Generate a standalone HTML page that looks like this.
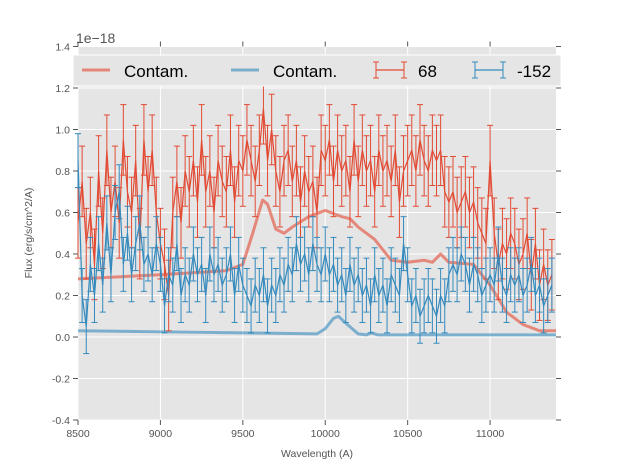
<!DOCTYPE html>
<html><head><meta charset="utf-8"><style>
body{margin:0;background:#fff;}
svg{display:block;font-family:"Liberation Sans",sans-serif;}
</style></head><body>
<svg id="chart" width="617" height="467">
<rect x="78" y="46.5" width="478" height="373.5" fill="#e5e5e5"/>
<g id="grid"></g>
<g id="series"></g>
<g id="axes"></g>
<g id="legend"></g>
</svg>
<script>
const redFlux=[0.55,0.75,0.45,0.6,0.35,0.8,0.5,0.9,0.6,0.75,
0.55,0.95,0.7,0.6,0.85,0.45,0.95,0.7,0.9,0.6,
0.45,0.35,0.2,0.6,0.75,0.55,0.8,0.7,0.85,0.65,
0.95,0.7,0.8,0.6,0.85,0.75,0.7,0.9,0.65,0.85,
0.8,0.95,0.85,0.75,0.9,1.1,0.85,1.0,0.8,0.7,
0.85,0.9,0.75,0.85,0.65,0.8,0.7,0.75,0.6,0.9,
0.85,0.95,0.75,0.9,0.8,0.85,0.7,0.95,0.75,0.9,
0.8,0.85,0.7,0.9,0.8,0.85,0.75,0.9,0.65,0.8,
0.85,0.9,0.8,0.95,0.85,0.8,0.9,0.85,0.9,0.7,
0.65,0.7,0.6,0.65,0.7,0.6,0.65,0.55,0.5,0.45,
0.85,0.5,0.35,0.45,0.4,0.5,0.45,0.35,0.4,0.5,
0.3,0.45,0.25,0.35,0.25,0.3];
const blueFlux=[0.85,0.2,0.05,0.35,0.2,0.45,0.25,0.55,0.3,0.6,
0.7,0.35,0.5,0.3,0.45,0.55,0.35,0.4,0.3,0.45,
0.35,0.15,0.3,0.25,0.45,0.2,0.3,0.25,0.4,0.3,
0.35,0.2,0.4,0.3,0.35,0.25,0.3,0.4,0.2,0.35,
0.25,0.2,0.15,0.25,0.2,0.3,0.15,0.25,0.2,0.3,
0.25,0.35,0.3,0.45,0.35,0.4,0.3,0.45,0.35,0.3,
0.4,0.3,0.35,0.25,0.3,0.2,0.35,0.25,0.3,0.2,
0.25,0.15,0.3,0.2,0.25,0.15,0.3,0.25,0.2,0.45,
0.3,0.15,0.2,0.1,0.15,0.2,0.15,0.1,0.2,0.15,
0.3,0.35,0.3,0.4,0.35,0.25,0.35,0.3,0.2,0.25,
0.3,0.25,0.4,0.25,0.2,0.3,0.25,0.3,0.2,0.25,
0.35,0.2,0.25,0.15,0.2,0.25];
const redErr=0.17, blueErr=0.13;
const contRedWave=[8500,9000,9400,9500,9560,9620,9650,9700,9750,9800,9900,10000,10100,10150,10200,10300,10350,10400,10500,10600,10650,10700,10750,10900,11000,11100,11200,11300,11400];
const contRedFlux=[0.28,0.30,0.32,0.35,0.5,0.66,0.64,0.52,0.50,0.53,0.58,0.61,0.58,0.57,0.53,0.47,0.42,0.37,0.36,0.37,0.36,0.40,0.36,0.35,0.25,0.12,0.06,0.03,0.03];
const contBlueWave=[8500,9000,9500,9950,10000,10050,10080,10120,10200,10250,10280,10320,11400];
const contBlueFlux=[0.03,0.025,0.02,0.015,0.04,0.09,0.10,0.07,0.015,0.01,0.02,0.01,0.01];
const xTicks=[8500,9000,9500,10000,10500,11000];
const yTicks=[-0.4,-0.2,0.0,0.2,0.4,0.6,0.8,1.0,1.2,1.4];
const waveStart=8500, waveStep=25;

const NS="http://www.w3.org/2000/svg";
const X=w=>78+(w-8500)*(478/2900);
const Y=v=>337-v*207.5;
function mk(tag,attrs,parent){const e=document.createElementNS(NS,tag);for(const k in attrs)e.setAttribute(k,attrs[k]);parent.appendChild(e);return e;}
const grid=document.getElementById('grid'),axes=document.getElementById('axes'),ser=document.getElementById('series'),leg=document.getElementById('legend');
xTicks.forEach(t=>{
  const l=mk('line',{x1:X(t),x2:X(t),y1:46.5,y2:420,stroke:'#fff','stroke-width':1},grid);
  
  
  mk('line',{x1:X(t),x2:X(t),y1:420,y2:425,stroke:'#555'},axes);
  mk('line',{x1:X(t),x2:X(t),y1:46.5,y2:41.5,stroke:'#555'},axes);
  const tx=mk('text',{x:X(t),y:437,'font-size':10.5,'text-anchor':'middle',fill:'#555'},axes);
  tx.textContent=t;
  
  
});
yTicks.forEach(t=>{
  const l=mk('line',{x1:78,x2:556,y1:Y(t),y2:Y(t),stroke:'#fff','stroke-width':1},grid);
  
  
  mk('line',{x1:73,x2:78,y1:Y(t),y2:Y(t),stroke:'#555'},axes);
  mk('line',{x1:556,x2:561,y1:Y(t),y2:Y(t),stroke:'#555'},axes);
  const tx=mk('text',{x:70,y:Y(t)+4,'font-size':10.5,'text-anchor':'end',fill:'#555'},axes);
  tx.textContent=t.toFixed(1);
  
  
});
function line(ws,vs,color,width,op,name){
  const p=mk('polyline',{points:ws.map((w,i)=>X(w)+','+Y(vs[i])).join(' '),fill:'none',stroke:color,'stroke-width':width,opacity:op,'stroke-linejoin':'round'},ser);
  
  
}
function errSeries(vals,err,color,name){
  const ws=vals.map((v,i)=>waveStart+i*waveStep);
  const g=mk('g',{},ser);
  
  
  vals.forEach((v,i)=>{
    const x=X(ws[i]);
    mk('line',{x1:x,x2:x,y1:Y(v-err),y2:Y(v+err),stroke:color,'stroke-width':1},g);
    mk('line',{x1:x-3,x2:x+3,y1:Y(v-err),y2:Y(v-err),stroke:color,'stroke-width':1},g);
    mk('line',{x1:x-3,x2:x+3,y1:Y(v+err),y2:Y(v+err),stroke:color,'stroke-width':1},g);
  });
  const p=mk('polyline',{points:ws.map((w,i)=>X(w)+','+Y(vals[i])).join(' '),fill:'none',stroke:color,'stroke-width':1.2},g);
}
line(contRedWave,contRedFlux,'#e24a33',3,0.6,'contam-red-line');
line(contBlueWave,contBlueFlux,'#348abd',3,0.6,'contam-blue-line');
errSeries(redFlux,redErr,'#e24a33','series-68');
errSeries(blueFlux,blueErr,'#348abd','series-minus152');
// axis labels
let t=mk('text',{x:317,y:457,'font-size':10.5,'text-anchor':'middle',fill:'#555'},axes);t.textContent='Wavelength (A)';


t=mk('text',{x:32,y:233,'font-size':10.5,'text-anchor':'middle',fill:'#555',transform:'rotate(-90 32 233)'},axes);t.textContent='Flux (erg/s/cm^2/A)';


t=mk('text',{x:76,y:43,'font-size':14,fill:'#555'},axes);t.textContent='1e\u221218';


// legend
const lb=mk('rect',{x:73,y:55,width:488,height:31,fill:'#e5e5e5',stroke:'#fff','stroke-width':1},leg);


const entries=[{x:82,c:'#e24a33',lbl:'Contam.',kind:'line'},{x:231,c:'#348abd',lbl:'Contam.',kind:'line'},{x:376,c:'#e24a33',lbl:'68',kind:'err'},{x:475,c:'#348abd',lbl:'-152',kind:'err'}];
entries.forEach(e=>{
  const g=mk('g',{},leg);
  
  
  if(e.kind==='line'){mk('line',{x1:e.x,x2:e.x+28,y1:70,y2:70,stroke:e.c,'stroke-width':3,opacity:0.6},g);}
  else{mk('line',{x1:e.x,x2:e.x+28,y1:70,y2:70,stroke:e.c,'stroke-width':1.2},g);
    [e.x,e.x+28].forEach(xx=>{mk('line',{x1:xx,x2:xx,y1:62,y2:78,stroke:e.c},g);mk('line',{x1:xx-3,x2:xx+3,y1:62,y2:62,stroke:e.c},g);mk('line',{x1:xx-3,x2:xx+3,y1:78,y2:78,stroke:e.c},g);});}
  const tx=mk('text',{x:e.x+42,y:77,'font-size':17,fill:'#000'},g);tx.textContent=e.lbl;
});
</script>
</body></html>
